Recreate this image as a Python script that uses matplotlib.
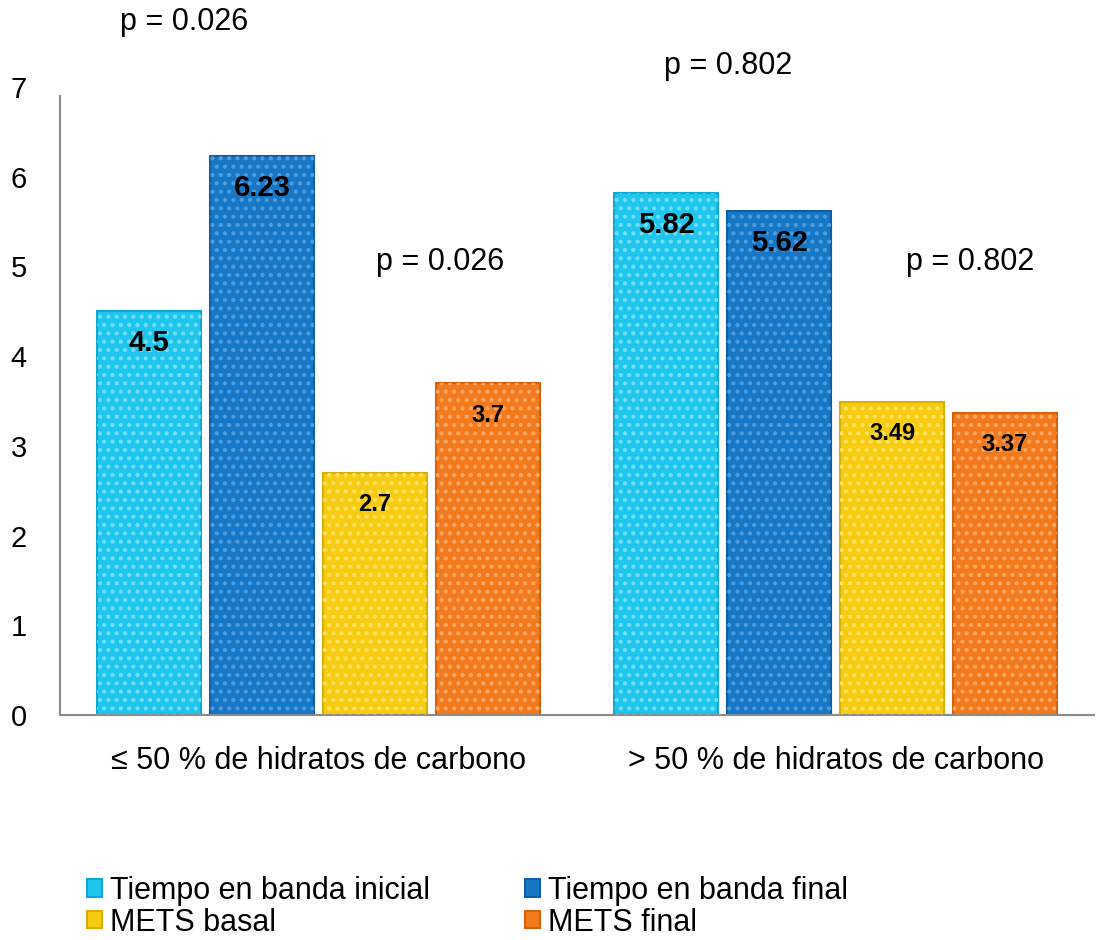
import matplotlib
matplotlib.use("Agg")
import matplotlib.pyplot as plt
from matplotlib.patches import Patch
import numpy as np

plt.rcParams['font.family'] = ['Liberation Sans', 'DejaVu Sans']

categories = ["≤ 50 % de hidratos de carbono", "> 50 % de hidratos de carbono"]
series_names = ["Tiempo en banda inicial", "Tiempo en banda final", "METS basal", "METS final"]
tiempo_inicial = [4.5, 5.82]
tiempo_final = [6.23, 5.62]
mets_basal = [2.7, 3.49]
mets_final = [3.7, 3.37]
p_values = ["p = 0.026", "p = 0.802"]

series = [tiempo_inicial, tiempo_final, mets_basal, mets_final]
face = ["#1EC6EE", "#1577C6", "#F6CB12", "#F27A1C"]
edge = ["#10A8D0", "#0E5FA6", "#D9AE05", "#D3620E"]
dots = ["#72DDF6", "#4F9CDC", "#FBE25E", "#F8A662"]
label_size = [21, 21, 17, 17]

fig = plt.figure(figsize=(10.96, 9.4), dpi=100)
ax = fig.add_axes([60 / 1096, 1 - 715 / 940, 1034 / 1096, 628 / 940])

x = np.arange(len(categories)) + 0.5
width = 0.201
step = 0.2186
plt.rcParams['hatch.linewidth'] = 1.8

handles = []
for i, vals in enumerate(series):
    pos = x + (i - 1.5) * step
    bars = ax.bar(pos, vals, width, color=face[i], edgecolor=edge[i], linewidth=1.5, zorder=2)
    ax.bar(pos, vals, width, color="none", edgecolor=dots[i], linewidth=0, hatch="..", zorder=3)
    for b, v in zip(bars, vals):
        ax.annotate(f"{v:g}", (b.get_x() + b.get_width() / 2, v), xytext=(0, -23),
                    textcoords="offset points", ha="center", va="center",
                    fontsize=label_size[i], fontweight="bold", color="black", zorder=4)
    handles.append(Patch(facecolor=face[i], edgecolor=edge[i], linewidth=1.5))

# p-values above each pair of bars
ax.text(0.24, 7.73, p_values[0], ha="center", va="center", fontsize=22, clip_on=False)
ax.text(0.735, 5.05, p_values[0], ha="center", va="center", fontsize=22)
ax.text(1.292, 7.23, p_values[1], ha="center", va="center", fontsize=22, clip_on=False)
ax.text(1.76, 5.05, p_values[1], ha="center", va="center", fontsize=22)

ax.set_xlim(0, 2)
ax.set_ylim(0, 7)
ax.set_yticks(range(8))
ax.set_xticks(x)
ax.set_xticklabels(categories, fontsize=22)
ax.tick_params(axis="y", labelsize=21, length=0, pad=24)
ax.tick_params(axis="x", length=0, pad=22)
for s in ("top", "right"):
    ax.spines[s].set_visible(False)
for s in ("left", "bottom"):
    ax.spines[s].set_color("#8C8C8C")
    ax.spines[s].set_linewidth(1.5)
ax.spines["left"].set_bounds(0, 6.9)

order = [0, 2, 1, 3]
leg = fig.legend([handles[k] for k in order], [series_names[k] for k in order],
                 ncol=2, loc="upper left", bbox_to_anchor=(87 / 1096, 1 - 876 / 940),
                 frameon=False, handlelength=0.5, handleheight=0.5,
                 handletextpad=0.25, columnspacing=3.1, labelspacing=0.05,
                 borderpad=0.0, borderaxespad=0.0,
                 prop={"family": ["Liberation Sans", "DejaVu Sans"], "size": 22})

fig.savefig("out.png", dpi=100)
